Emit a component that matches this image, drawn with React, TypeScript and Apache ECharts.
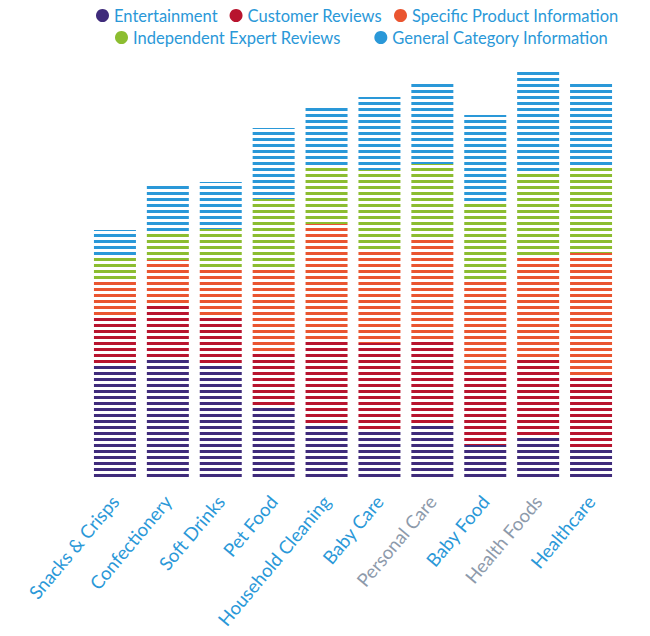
import React, { useEffect, useRef } from "react";
import * as echarts from "echarts";

const categories = [
  "Snacks & Crisps",
  "Confectionery",
  "Soft Drinks",
  "Pet Food",
  "Household Cleaning",
  "Baby Care",
  "Personal Care",
  "Baby Food",
  "Health Foods",
  "Healthcare",
];
const grayLabels = ["Personal Care", "Health Foods"];

const seriesNames = [
  "Entertainment",
  "Customer Reviews",
  "Specific Product Information",
  "Independent Expert Reviews",
  "General Category Information",
];
const seriesColors = ["#3f2b7b", "#b8142e", "#ea5530", "#8cbd30", "#2a98d8"];

const entertainment = [113, 121, 115, 70, 55, 49, 55, 33, 43, 28];
const customerReviews = [47, 52, 46, 55, 84, 86, 84, 75, 78, 72];
const specificProduct = [38, 45, 49, 85, 115, 93, 101, 88, 102, 125];
const expertReviews = [24, 27, 39, 69, 57, 80, 74, 79, 83, 86];
const generalCategory = [26, 48, 47, 71, 60, 73, 80, 88, 100, 83];

const seriesValues = [
  entertainment,
  customerReviews,
  specificProduct,
  expertReviews,
  generalCategory,
];

export default function App() {
  const ref = useRef<HTMLDivElement>(null);
  useEffect(() => {
    if (!ref.current) return;
    const chart = echarts.init(ref.current, null, { renderer: "svg" });
    const legendText = {
      color: "#2a98d8",
      fontSize: 16.5,
      fontFamily: "Lato, sans-serif",
    };
    chart.setOption({
      animation: false,
      backgroundColor: "#ffffff",
      legend: [
        {
          top: 2,
          left: 91,
          icon: "circle",
          itemWidth: 13,
          itemHeight: 13,
          itemGap: 12,
          textStyle: legendText,
          data: seriesNames.slice(0, 3).map((n, i) => ({
            name: n,
            itemStyle: { color: seriesColors[i], decal: "none" },
          })),
        },
        {
          top: 24,
          left: 110,
          icon: "circle",
          itemWidth: 13,
          itemHeight: 13,
          itemGap: 34,
          textStyle: legendText,
          data: seriesNames.slice(3).map((n, i) => ({
            name: n,
            itemStyle: { color: seriesColors[i + 3], decal: "none" },
          })),
        },
      ],
      grid: { left: 88.5, right: 32.5, top: 58, bottom: 158 },
      xAxis: {
        type: "category",
        data: categories.map((c) => ({
          value: c,
          textStyle: grayLabels.includes(c) ? { color: "#8d9aab" } : undefined,
        })),
        axisLine: { show: false },
        axisTick: { show: false },
        axisLabel: {
          rotate: 50,
          interval: 0,
          margin: 20,
          color: "#2a98d8",
          fontSize: 18.5,
          fontFamily: "Lato, sans-serif",
        },
      },
      yAxis: {
        type: "value",
        min: 0,
        max: 420,
        show: false,
        splitLine: { show: false },
      },
      series: seriesNames.map((name, i) => ({
        name,
        type: "bar",
        stack: "total",
        barWidth: 42,
        data: seriesValues[i],
        itemStyle: {
          color: "#ffffff",
          decal: {
            symbol: "rect",
            symbolSize: 1,
            color: seriesColors[i],
            dashArrayX: [1, 0],
            dashArrayY: [2.2, 2.2],
            rotation: 0,
          },
        },
      })),
    });
    return () => chart.dispose();
  }, []);
  return (
    <div
      ref={ref}
      style={{ position: "fixed", left: 0, top: 0, width: 650, height: 636 }}
    />
  );
}
